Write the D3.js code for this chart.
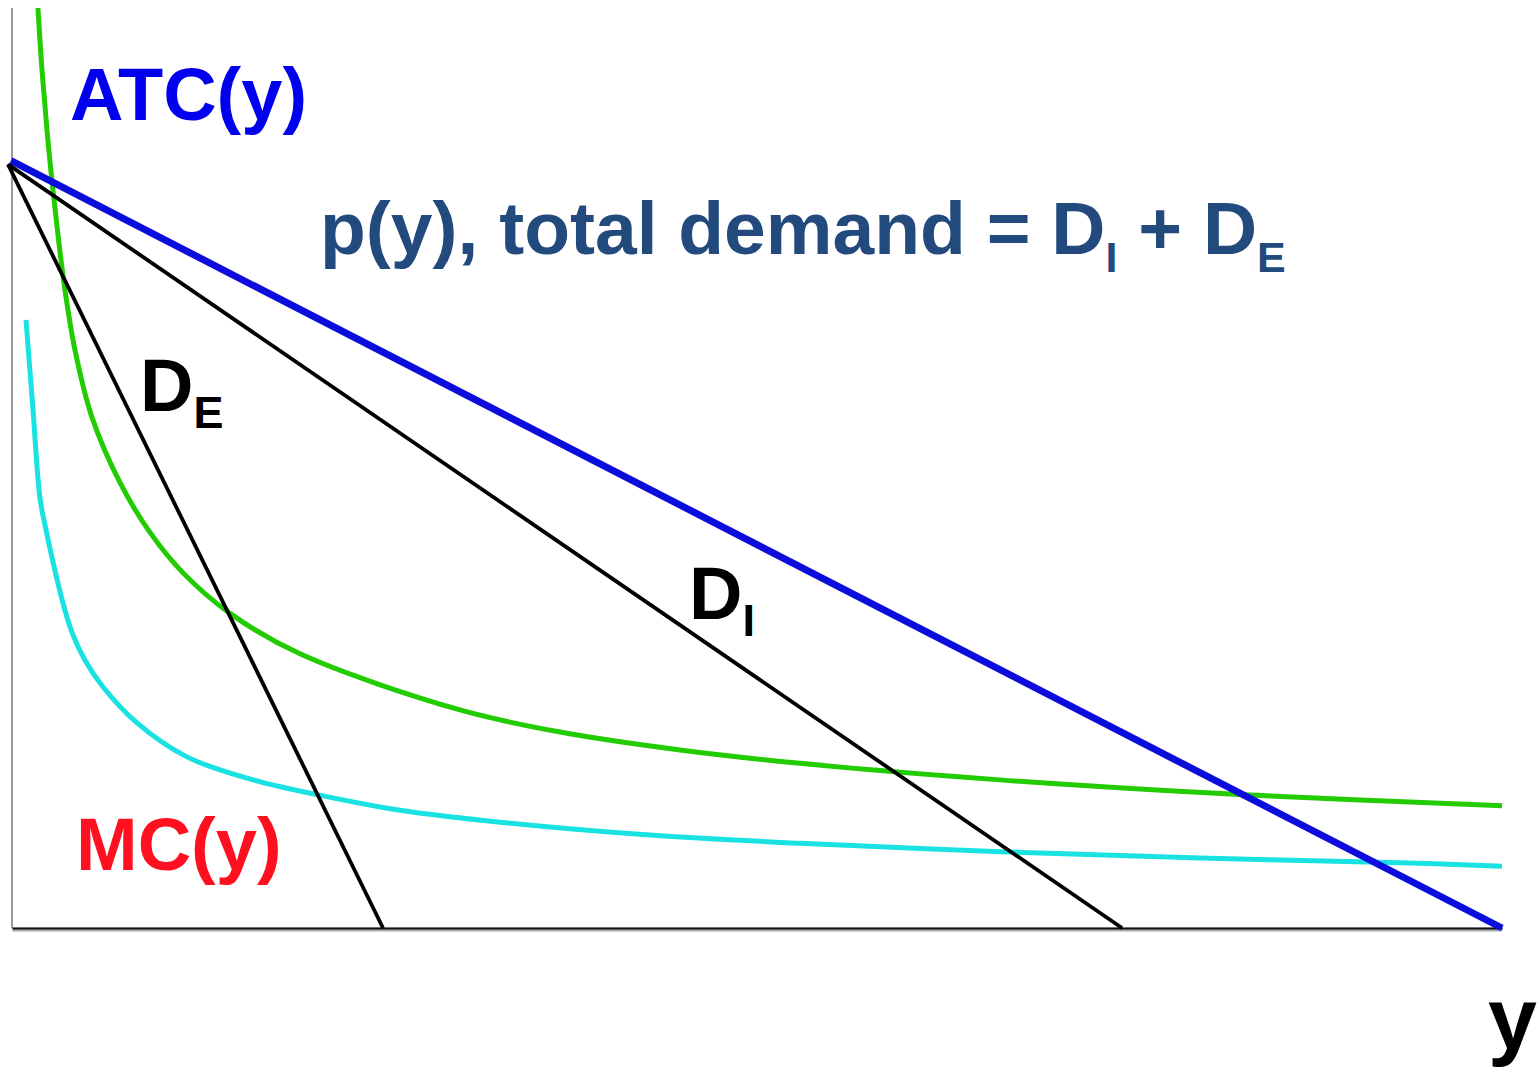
<!DOCTYPE html>
<html><head><meta charset="utf-8">
<script src="https://cdn.jsdelivr.net/npm/d3@7"></script>
<style>body{margin:0;background:#fff}svg{display:block}text{font-family:"Liberation Sans",Arial,sans-serif;font-weight:bold}</style>
</head><body>
<script>
// data (x: output y, 0-100; value: price/cost, 0-100)
const atcX = [1.74,2.01,2.35,2.75,3.49,4.23,5.37,7.25,9.26,11.48,14.63,19.33,30.07,36.78,44.83,52.89,66.31,82.42,100];
const atcY = [100,93.3,86.7,80.2,70.1,62.8,55.5,48.4,43.0,38.6,34.2,29.8,23.7,21.3,19.35,17.9,16.1,14.5,13.3];
const mcX = [0.94,1.41,1.88,2.28,2.75,3.36,4.03,4.90,6.11,8.39,11.74,16.17,20.47,26.04,32.75,42.82,52.89,66.31,79.73,93.15,100];
const mcY = [66.1,56.3,46.7,43.3,39.8,35.7,32.1,29.1,26.2,22.3,18.6,16.1,14.5,12.8,11.5,10.1,9.2,8.3,7.6,7.1,6.7];
const totalX = [-0.07,100];
const totalY = [83.4,0];
const dIX = [-0.27,74.5];
const dIY = [83.0,0];
const dEX = [-0.27,24.9];
const dEY = [83.0,0];

const W=1539,H=1067;
const svg=d3.select("body").append("svg").attr("width",W).attr("height",H);
const x=d3.scaleLinear().domain([0,100]).range([12,1502]);
const y=d3.scaleLinear().domain([0,100]).range([928,8]);

// axes
svg.append("line").attr("x1",x(0)).attr("x2",x(0)).attr("y1",y(0)).attr("y2",y(100))
  .attr("stroke","#9a9a9a").attr("stroke-width",2);
svg.append("g").attr("transform",`translate(0,${y(0)+1})`).call(d3.axisBottom(x).tickValues([]).tickSizeOuter(0))
  .select(".domain").attr("stroke","#aaa").attr("stroke-width",4);
svg.append("g").attr("transform",`translate(0,${y(0)})`).call(d3.axisBottom(x).tickValues([]).tickSizeOuter(0))
  .select(".domain").attr("stroke","#111").attr("stroke-width",2.2);

const pts=(xs,ys)=>xs.map((v,i)=>[v,ys[i]]);
const curve=d3.line().x(d=>x(d[0])).y(d=>y(d[1])).curve(d3.curveCatmullRom.alpha(0.5));
const straight=d3.line().x(d=>x(d[0])).y(d=>y(d[1]));

svg.append("path").attr("d",curve(pts(mcX,mcY))).attr("fill","none").attr("stroke","#1ae2e2").attr("stroke-width",5).attr("stroke-linejoin","round");
svg.append("path").attr("d",curve(pts(atcX,atcY))).attr("fill","none").attr("stroke","#22cc00").attr("stroke-width",5).attr("stroke-linejoin","round");
svg.append("path").attr("d",straight(pts(totalX,totalY))).attr("fill","none").attr("stroke","#0c0cdc").attr("stroke-width",7);
svg.append("path").attr("d",straight(pts(dIX,dIY))).attr("fill","none").attr("stroke","#000").attr("stroke-width",3.8);
svg.append("path").attr("d",straight(pts(dEX,dEY))).attr("fill","none").attr("stroke","#000").attr("stroke-width",3.8);

// labels
svg.append("text").attr("x",70).attr("y",120).attr("font-size",74).attr("fill","#0000ee").text("ATC(y)");
svg.append("text").attr("x",76).attr("y",870).attr("font-size",74).attr("fill","#ff1020").text("MC(y)");
const t=svg.append("text").attr("x",320).attr("y",254).attr("font-size",75).attr("fill","#234a7c");
t.append("tspan").text("p(y), total demand = D");
t.append("tspan").attr("font-size",43).attr("dy",18).text("I");
t.append("tspan").attr("dy",-18).text(" + D");
t.append("tspan").attr("font-size",43).attr("dy",18).text("E");
const de=svg.append("text").attr("x",140).attr("y",411).attr("font-size",74).attr("fill","#000");
de.append("tspan").text("D");
de.append("tspan").attr("font-size",45).attr("dy",17).text("E");
const di=svg.append("text").attr("x",689).attr("y",619).attr("font-size",74).attr("fill","#000");
di.append("tspan").text("D");
di.append("tspan").attr("font-size",45).attr("dy",17).text("I");
svg.append("text").attr("x",1488).attr("y",1049).attr("font-size",88).attr("fill","#000").text("y");
</script>
</body></html>
